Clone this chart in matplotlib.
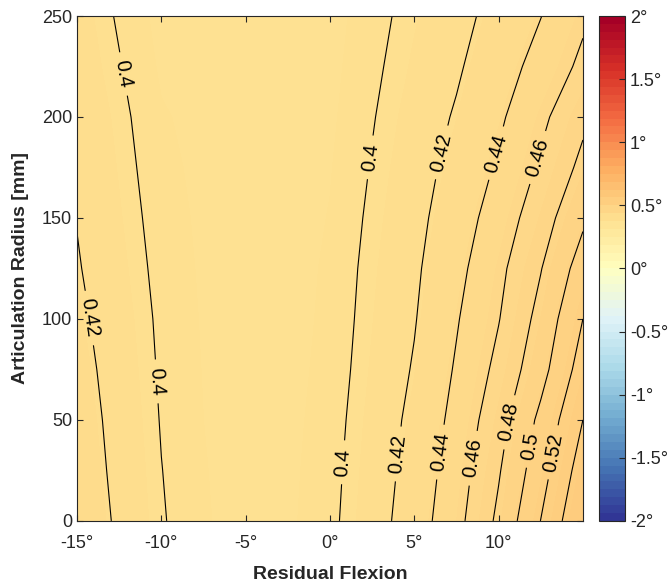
import numpy as np
import matplotlib
matplotlib.use('Agg')
import matplotlib.pyplot as plt
from matplotlib.colors import Normalize, ListedColormap

plt.rcParams['font.family'] = ['Liberation Sans', 'DejaVu Sans']

# grid (rows: radius, columns: flexion)
flexion = [-15, -12.5, -10, -7.5, -5, -2.5, 0, 2.5, 5, 7.5, 10, 12.5, 15]
radius = [0, 25, 50, 75, 100, 125, 150, 175, 200, 225, 250]
error = [
    [0.433, 0.417, 0.4013, 0.391, 0.386, 0.388, 0.3966, 0.4117, 0.4297, 0.4539, 0.4839, 0.5203, 0.559],
    [0.4306, 0.4155, 0.4003, 0.3905, 0.386, 0.3875, 0.3957, 0.4103, 0.4271, 0.4503, 0.4783, 0.5117, 0.5499],
    [0.4289, 0.4141, 0.3992, 0.390, 0.3855, 0.387, 0.3945, 0.4089, 0.4247, 0.4459, 0.4724, 0.5046, 0.540],
    [0.4267, 0.4124, 0.3982, 0.3895, 0.385, 0.3865, 0.3932, 0.4071, 0.4215, 0.442, 0.4651, 0.493, 0.529],
    [0.424, 0.4107, 0.3973, 0.389, 0.3848, 0.386, 0.3923, 0.4056, 0.4189, 0.4385, 0.4592, 0.4862, 0.520],
    [0.4214, 0.4087, 0.3959, 0.3885, 0.3845, 0.3855, 0.3917, 0.4043, 0.417, 0.4344, 0.4553, 0.4792, 0.509],
    [0.4194, 0.4069, 0.3944, 0.388, 0.3842, 0.385, 0.3905, 0.4027, 0.4148, 0.4301, 0.4491, 0.471, 0.4967],
    [0.4177, 0.4052, 0.3927, 0.3875, 0.384, 0.3845, 0.3893, 0.4009, 0.4126, 0.4259, 0.4425, 0.4628, 0.4848],
    [0.416, 0.4035, 0.391, 0.387, 0.3838, 0.384, 0.388, 0.3991, 0.4102, 0.4218, 0.4368, 0.4557, 0.476],
    [0.413, 0.4009, 0.3884, 0.3862, 0.3836, 0.3835, 0.3869, 0.3972, 0.4074, 0.4177, 0.4312, 0.4468, 0.4642],
    [0.411, 0.3983, 0.3865, 0.385, 0.3833, 0.383, 0.3859, 0.3955, 0.405, 0.4146, 0.4259, 0.4396, 0.4567],
]
line_levels = [0.40, 0.42, 0.44, 0.46, 0.48, 0.50, 0.52, 0.54]
cbar_ticks = [-2, -1.5, -1, -0.5, 0, 0.5, 1, 1.5, 2]

X, Y = np.meshgrid(flexion, radius)
Z = np.array(error)

base = plt.get_cmap('RdYlBu_r')
cmap = ListedColormap(base(np.linspace(0, 1, 64)))
norm = Normalize(vmin=-2, vmax=2)

fig = plt.figure(figsize=(6.7, 5.82), dpi=100)
ax = fig.add_axes([0.115, 0.105, 0.755, 0.8675])
cax = fig.add_axes([0.894, 0.105, 0.039, 0.8675])

ax.contourf(X, Y, Z, levels=np.arange(0.37, 0.58, 0.004), cmap=base, norm=norm)
cs = ax.contour(X, Y, Z, levels=line_levels, colors='black', linewidths=0.8)
label_pos = [(-12.45, 221), (-14.6, 100), (-10.4, 69),
             (2.4, 180), (6.85, 182), (9.9, 182), (12.3, 180),
             (0.8, 29), (4.2, 33), (6.6, 34), (8.5, 31), (10.5, 49), (11.9, 37), (13.2, 34)]
ax.clabel(cs, fmt='%g', fontsize=14.5, manual=label_pos, inline=True, inline_spacing=8)

ax.set_xlim(-15, 15)
ax.set_ylim(0, 250)
ax.set_xticks([-15, -10, -5, 0, 5, 10])
ax.set_xticklabels(['-15°', '-10°', '-5°', '0°', '5°', '10°'])
ax.set_yticks([0, 50, 100, 150, 200, 250])
ax.tick_params(direction='in', top=True, right=True, labelsize=13, colors='#262626', length=4)
ax.tick_params(axis='x', pad=10)
for s in ax.spines.values():
    s.set_color('#262626')
    s.set_linewidth(0.8)
ax.set_xlabel('Residual Flexion', fontsize=14, fontweight='bold', color='#262626', labelpad=10)
ax.set_ylabel('Articulation Radius [mm]', fontsize=14, fontweight='bold', color='#262626', labelpad=9)

sm = plt.cm.ScalarMappable(norm=norm, cmap=cmap)
cb = fig.colorbar(sm, cax=cax, ticks=cbar_ticks)
cb.ax.set_yticklabels([f'{t:g}°' for t in cbar_ticks])
cb.ax.tick_params(direction='in', labelsize=13, colors='#262626', length=4)
cb.outline.set_edgecolor('#262626')
cb.outline.set_linewidth(0.8)

fig.savefig('out.png', dpi=100)
